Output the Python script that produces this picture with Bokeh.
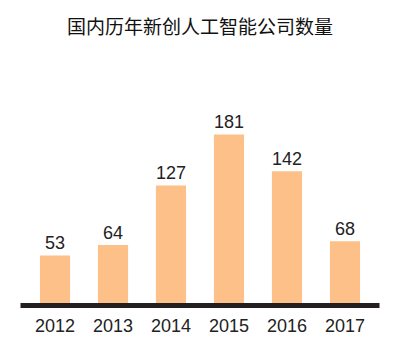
from bokeh.plotting import figure
from bokeh.models import ColumnDataSource, FixedTicker, Label
from bokeh.core.properties import value
from bokeh.embed import file_html
from bokeh.resources import INLINE

title_text = "国内历年新创人工智能公司数量"
years = ["2012", "2013", "2014", "2015", "2016", "2017"]
counts = [53, 64, 127, 181, 142, 68]

xs = list(range(len(years)))
src = ColumnDataSource(dict(x=xs, top=counts, label=[str(c) for c in counts]))

p = figure(width=384, height=346, output_backend="svg", toolbar_location=None,
           x_range=(-0.595, len(years) - 1 + 0.595), y_range=(0, 322.7),
           min_border_left=20, min_border_right=5, min_border_top=0,
           min_border_bottom=41)
p.outline_line_color = None
p.grid.visible = False
p.yaxis.visible = False

p.vbar(x="x", top="top", bottom=0, width=0.52, source=src,
       fill_color="#FDC089", line_color=None)

p.text(x="x", y="top", text="label", source=src, text_align="center",
       text_baseline="alphabetic", y_offset=-13,
       text_font=value("Liberation Sans"), text_font_size="18px",
       text_color="#222222")

ax = p.xaxis[0]
ax.ticker = FixedTicker(ticks=xs)
ax.major_label_overrides = {i: y for i, y in enumerate(years)}
ax.axis_line_width = 5
ax.axis_line_color = "#231f20"
ax.major_tick_line_color = None
ax.minor_tick_line_color = None
ax.major_tick_out = 0
ax.major_label_standoff = 13
ax.major_label_text_font = "Liberation Sans"
ax.major_label_text_font_size = "18px"
ax.major_label_text_color = "#222222"

p.add_layout(Label(x=(len(years) - 1) / 2, y=296.3, text=title_text,
                   text_align="center", text_baseline="middle",
                   text_font="Noto Sans CJK SC", text_font_size="19px",
                   text_color="#111111"))

open("out.html", "w").write(file_html(p, INLINE))
